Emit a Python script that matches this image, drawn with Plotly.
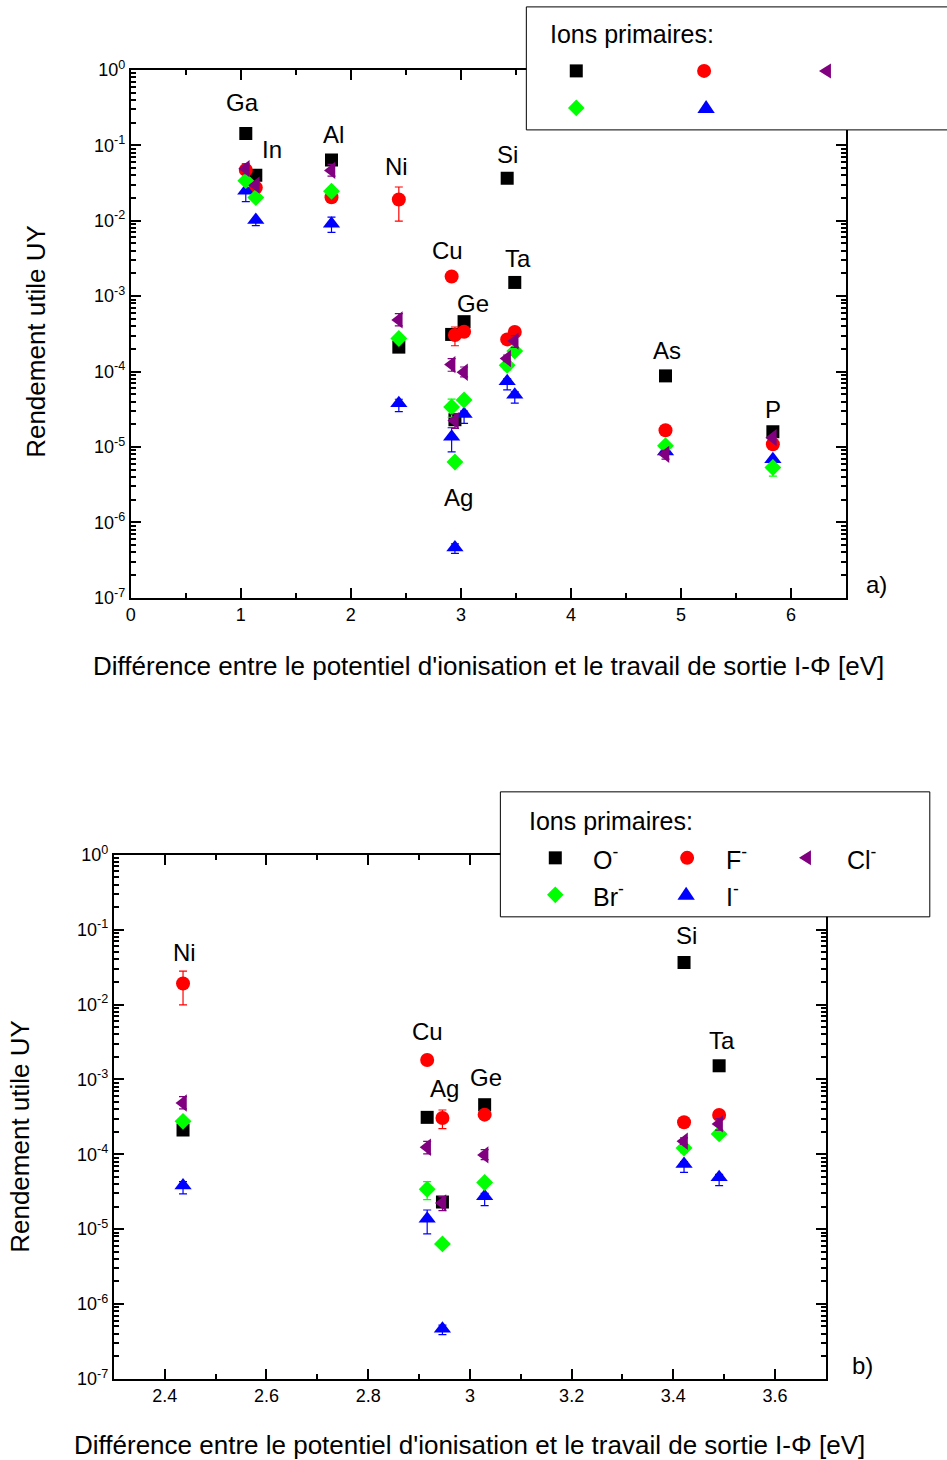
import math
import plotly.graph_objects as go

W, H = 947, 1460
FONT = "Liberation Sans, Arial, sans-serif"

# ---------------- data ----------------
elements = ["Ga", "In", "Al", "Ni", "Cu", "Ag", "Ge", "Si", "Ta", "As", "P"]
delta_e = [1.045, 1.136, 1.824, 2.436, 2.916, 2.946, 3.029, 3.421, 3.490, 4.860, 5.836]

# useful yield per primary ion (same element order)
uy_O = [0.143, 0.0400, 0.0638, 2.11e-4, 3.11e-4, 2.30e-5, 4.59e-4, 0.0365, 1.52e-3, 8.77e-5, 1.59e-5]
uy_F = [0.0472, 0.0275, 0.0205, 0.0191, 1.82e-3, 3.05e-4, 3.38e-4, 2.67e-4, 3.35e-4, 1.67e-5, 1.09e-5]
uy_Cl = [0.0490, 0.0296, 0.0465, 4.84e-4, 1.24e-4, 2.24e-5, 9.8e-5, 1.49e-4, 2.54e-4, 8.0e-6, 1.33e-5]
uy_Br = [0.0340, 0.0203, 0.0246, 2.75e-4, 3.40e-5, 6.34e-6, 4.2e-5, 1.21e-4, 1.87e-4, 1.04e-5, 5.34e-6]
uy_I = [0.0249, 0.0102, 0.0091, 3.81e-5, 1.37e-5, 4.65e-7, 2.74e-5, 7.42e-5, 4.92e-5, 8.7e-6, 6.9e-6]

# error-bar limits (upper, lower); None = no error bar
err_O = [None] * 11
err_F = [None, None, None, (0.028, 0.0099), None, (3.9e-4, 2.2e-4), None, None, None, None, None]
err_Cl = [(0.057, 0.042), None, (0.056, 0.039), (5.87e-4, 4.03e-4), (1.49e-4, 1.01e-4),
          (2.72e-5, 1.77e-5), (1.15e-4, 8.5e-5), (1.65e-4, 1.35e-4), (3.0e-4, 2.1e-4),
          (9.0e-6, 6.9e-6), None]
err_Br = [None, None, None, None, (4.31e-5, 2.48e-5), None, None, (1.40e-4, 1.05e-4),
          None, None, (6.0e-6, 4.1e-6)]
err_I = [(0.0249, 0.0179), (0.0102, 0.0086), (0.0112, 0.0070), (4.3e-5, 2.95e-5),
         (1.80e-5, 8.63e-6), (5.2e-7, 3.9e-7), (3.0e-5, 2.06e-5), (8.0e-5, 5.73e-5),
         (5.4e-5, 3.81e-5), None, None]

series_names = ["O<sup>-</sup>", "F<sup>-</sup>", "I<sup>-</sup>", "Br<sup>-</sup>", "Cl<sup>-</sup>"]
series_values = [uy_O, uy_F, uy_I, uy_Br, uy_Cl]
series_errors = [err_O, err_F, err_I, err_Br, err_Cl]
series_colors = ["#000000", "#FF0000", "#0000FF", "#00FF00", "#800080"]
series_symbols = ["square", "circle", "triangle-up", "diamond", "triangle-left"]
series_sizes = [13, 14, 15, 13, 15]

# element labels (text, x, y) for each panel
labels_a = [("Ga", 1.018, 0.365), ("In", 1.279, 0.0889), ("Al", 1.845, 0.140),
            ("Ni", 2.415, 0.0518), ("Si", 3.424, 0.0762), ("Cu", 2.876, 4.07e-3),
            ("Ta", 3.515, 3.15e-3), ("Ge", 3.112, 7.97e-4), ("Ag", 2.976, 2.14e-6),
            ("As", 4.876, 1.88e-4), ("P", 5.834, 3.17e-5)]
labels_b = [("Ni", 2.439, 0.0496), ("Cu", 2.916, 4.37e-3), ("Ag", 2.951, 7.67e-4),
            ("Ge", 3.031, 1.06e-3), ("Si", 3.425, 0.0829), ("Ta", 3.496, 3.36e-3)]

x_title = "Différence entre le potentiel d'ionisation et le travail de sortie I-Φ [eV]"
y_title = "Rendement utile UY"
legend_title = "Ions primaires:"
legend_labels = ["O<sup>-</sup>", "F<sup>-</sup>", "Cl<sup>-</sup>", "Br<sup>-</sup>", "I<sup>-</sup>"]
legend_colors = ["#000000", "#FF0000", "#800080", "#00FF00", "#0000FF"]
legend_keys = ["square", "circle", "triangle-left", "diamond", "triangle-up"]

# ---------------- layout geometry (target pixels) ----------------
panel_a = dict(x0=131, x1=847, y0=69, y1=597)
panel_b = dict(x0=114, x1=827, y0=854, y1=1378)

# small correction for how the page is photographed
SX, OX = 0.996, 5.0
SY, OY = 0.985, 11.1


def px(x):
    return ((x - OX) / SX) / W


def py(y):
    return 1 - ((y - OY) / SY) / H


fig = go.Figure()


def add_series(xa, ya):
    for name, vals, errs, col, sym, sz in zip(series_names, series_values, series_errors,
                                              series_colors, series_symbols, series_sizes):
        plus = [(e[0] - v) if e else 0 for v, e in zip(vals, errs)]
        minus = [(v - e[1]) if e else 0 for v, e in zip(vals, errs)]
        fig.add_trace(go.Scatter(
            x=delta_e, y=vals, mode="markers", name=name, showlegend=False,
            xaxis=xa, yaxis=ya,
            marker=dict(symbol=sym, size=sz, color=col, line=dict(width=0)),
            error_y=dict(type="data", symmetric=False, array=plus, arrayminus=minus,
                         color=col, thickness=1.2, width=4),
        ))


add_series("x", "y")
add_series("x2", "y2")

dec_vals = [10.0 ** k for k in range(-7, 1)]
dec_text = ["10<sup>%d</sup>" % k for k in range(-7, 1)]
minor_vals = [m * 10.0 ** k for k in range(-7, 0) for m in range(2, 10)]

common_axis = dict(showline=True, linewidth=2, linecolor="black", mirror="allticks",
                   ticks="inside", tickwidth=1.5, tickcolor="black", showgrid=False,
                   zeroline=False, tickfont=dict(family=FONT, size=18, color="black"))

yaxis_common = dict(common_axis, type="log", range=[-7, 0], tickmode="array",
                    tickvals=dec_vals, ticktext=dec_text, ticklen=10,
                    minor=dict(tickmode="array", tickvals=minor_vals, ticks="inside",
                               ticklen=5, tickwidth=1.5, tickcolor="black", showgrid=False))

fig.update_layout(
    width=W, height=H, margin=dict(l=0, r=0, t=0, b=0, pad=0), autosize=False,
    paper_bgcolor="white", plot_bgcolor="white", showlegend=False,
    font=dict(family=FONT, color="black"),
    xaxis=dict(common_axis, domain=[px(panel_a["x0"]), px(panel_a["x1"])], range=[0, 6.5],
               anchor="y", tickmode="linear", tick0=0, dtick=1, ticklen=10,
               minor=dict(dtick=0.5, ticks="inside", ticklen=5, tickwidth=1.5,
                          tickcolor="black", showgrid=False)),
    yaxis=dict(yaxis_common, domain=[py(panel_a["y1"]), py(panel_a["y0"])], anchor="x"),
    xaxis2=dict(common_axis, domain=[px(panel_b["x0"]), px(panel_b["x1"])], range=[2.3, 3.7],
                anchor="y2", tickmode="linear", tick0=2.4, dtick=0.2, ticklen=10,
                minor=dict(dtick=0.1, ticks="inside", ticklen=5, tickwidth=1.5,
                           tickcolor="black", showgrid=False)),
    yaxis2=dict(yaxis_common, domain=[py(panel_b["y1"]), py(panel_b["y0"])], anchor="x2"),
)


def paper_text(text, cx, cy, size, xanchor="center", angle=0):
    return dict(x=px(cx), y=py(cy), xref="paper", yref="paper", text=text,
                xanchor=xanchor, yanchor="middle", textangle=angle, showarrow=False,
                font=dict(size=size, family=FONT, color="black"))


ann = []
for txt, x, y in labels_a:
    ann.append(dict(x=x, y=math.log10(y), xref="x", yref="y", text=txt, showarrow=False,
                    xanchor="center", yanchor="middle",
                    font=dict(size=24, family=FONT, color="black")))
for txt, x, y in labels_b:
    ann.append(dict(x=x, y=math.log10(y), xref="x2", yref="y2", text=txt, showarrow=False,
                    xanchor="center", yanchor="middle",
                    font=dict(size=24, family=FONT, color="black")))

# axis titles and panel tags
for (cx, cy) in [(489, 665), (470, 1444)]:
    ann.append(paper_text(x_title, cx, cy, 26))
for (cx, cy) in [(36, 340), (20, 1135)]:
    ann.append(paper_text(y_title, cx, cy, 26, angle=-90))
ann.append(paper_text("a)", 878, 584, 24))
ann.append(paper_text("b)", 864, 1365, 24))

# ---------------- legends (drawn manually) ----------------
legend_a = dict(box=(527, 6, 975, 129), title=(549, 33),
                keys=[(577, 70), (705, 70), (828, 70), (577, 107), (707, 107)], labels=None)
legend_b = dict(box=(501, 791, 931, 916), title=(528, 820),
                keys=[(556, 857), (688, 857), (808, 857), (556, 894), (687, 894)],
                labels=[(592, 857), (725, 857), (846, 857), (592, 894), (725, 894)])

shapes = []


def key_shape(kind, cx, cy, color):
    base = dict(xref="paper", yref="paper", xsizemode="pixel", ysizemode="pixel",
                xanchor=px(cx), yanchor=py(cy), fillcolor=color, line=dict(width=0),
                layer="above")
    if kind == "square":
        return dict(base, type="rect", x0=-6.5, x1=6.5, y0=-6.5, y1=6.5)
    if kind == "circle":
        return dict(base, type="circle", x0=-7, x1=7, y0=-7, y1=7)
    if kind == "diamond":
        return dict(base, type="path", path="M 8.3,0 L 0,8.3 L -8.3,0 L 0,-8.3 Z")
    if kind == "triangle-up":
        return dict(base, type="path", path="M -8.7,-5 L 8.7,-5 L 0,8 Z")
    if kind == "triangle-left":
        return dict(base, type="path", path="M 4,-7.5 L 4,7.5 L -8,0 Z")


for lg in (legend_a, legend_b):
    bx0, by0, bx1, by1 = lg["box"]
    shapes.append(dict(type="rect", xref="paper", yref="paper", x0=px(bx0), x1=px(bx1),
                       y0=py(by1), y1=py(by0), fillcolor="white",
                       line=dict(color="black", width=1), layer="above"))
    tx, ty = lg["title"]
    ann.append(paper_text(legend_title, tx, ty, 25, xanchor="left"))
    for i, (kx, ky) in enumerate(lg["keys"]):
        shapes.append(key_shape(legend_keys[i], kx, ky, legend_colors[i]))
    if lg["labels"]:
        for i, (lx, ly) in enumerate(lg["labels"]):
            ann.append(paper_text(legend_labels[i], lx, ly, 25, xanchor="left"))

fig.update_layout(annotations=ann, shapes=shapes)
fig.write_html("out.html", config={"displayModeBar": False},
               post_script="document.body.style.margin='0px';"
                           "document.body.style.overflow='hidden';")
